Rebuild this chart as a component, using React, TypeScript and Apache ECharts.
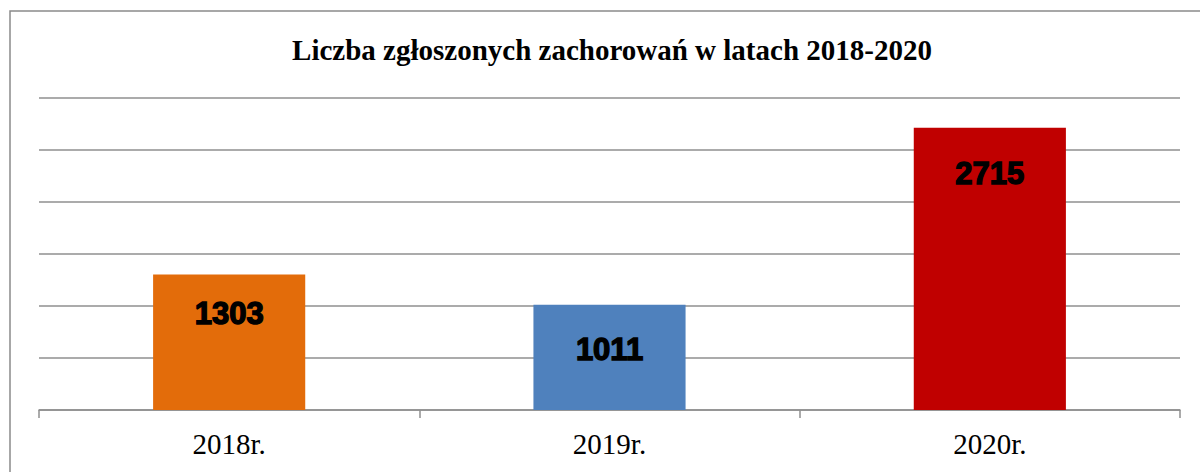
import React, { useEffect, useRef } from "react";
import * as echarts from "echarts";

const categories = ["2018r.", "2019r.", "2020r."];
const values = [1303, 1011, 2715];
const barColors = ["#E36C0A", "#4F81BD", "#C00000"];
const labelDistances = [24, 29, 30];
const titleText = "Liczba zgłoszonych zachorowań w latach 2018-2020";

export default function App() {
  const ref = useRef<HTMLDivElement>(null);
  useEffect(() => {
    if (!ref.current) return;
    const chart = echarts.init(ref.current, null, { renderer: "svg" });
    chart.setOption({
      animation: false,
      backgroundColor: "#ffffff",
      title: {
        text: titleText,
        left: 607,
        top: 30,
        textAlign: "center",
        textStyle: {
          fontFamily: "Liberation Serif",
          fontWeight: "bold",
          fontSize: 29,
          color: "#000",
        },
      },
      graphic: [
        {
          type: "rect",
          z: -10,
          shape: { x: 10, y: 11, width: 1240, height: 520 },
          style: { fill: "none", stroke: "#8a8a8a", lineWidth: 1.5 },
        },
      ],
      grid: { left: 39, right: 20, top: 98, bottom: 62 },
      xAxis: {
        type: "category",
        data: categories,
        axisLine: { lineStyle: { color: "#8f8f8f", width: 1.5 } },
        axisTick: { show: true, length: 8, lineStyle: { color: "#8f8f8f", width: 1.5 } },
        axisLabel: {
          fontFamily: "Liberation Serif",
          fontSize: 29,
          color: "#000",
          margin: 19,
        },
      },
      yAxis: {
        type: "value",
        min: 0,
        max: 3000,
        interval: 500,
        axisLabel: { show: false },
        axisLine: { show: false },
        axisTick: { show: false },
        splitLine: { lineStyle: { color: "#8f8f8f", width: 1.5 } },
      },
      series: [
        {
          type: "bar",
          barWidth: "40%",
          data: values.map((v, i) => ({
            value: v,
            itemStyle: { color: barColors[i] },
            label: { distance: labelDistances[i] },
          })),
          label: {
            show: true,
            position: "insideTop",
            fontFamily: "Liberation Sans",
            fontWeight: "bold",
            fontSize: 31,
            color: "#000",
            textBorderColor: "#000",
            textBorderWidth: 1.4,
          },
        },
      ],
    });
    return () => chart.dispose();
  }, []);
  return (
    <div
      ref={ref}
      style={{ position: "absolute", left: 0, top: 0, width: 1200, height: 472 }}
    />
  );
}
